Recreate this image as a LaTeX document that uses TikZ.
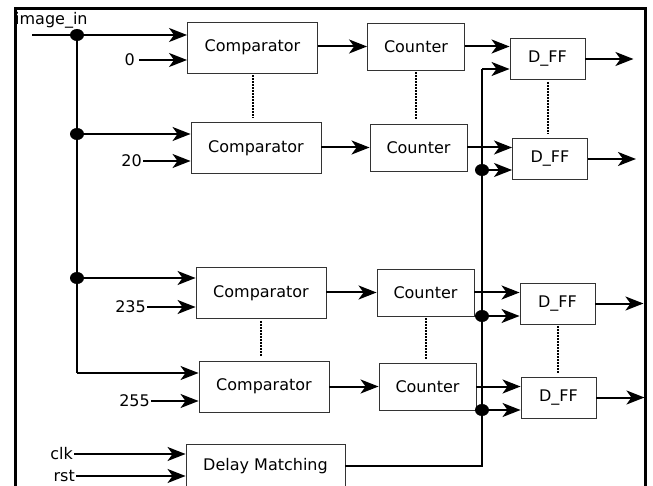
\documentclass[tikz,border=0pt]{standalone}
\usepackage{fontspec}
\setmainfont{DejaVu Sans}
\usetikzlibrary{arrows.meta, shapes.geometric}

\begin{document}
\begin{tikzpicture}[x=1pt, y=-1pt, ->, >={Stealth[length=18pt,width=14pt,inset=5pt]},
       font=\fontsize{16}{19}\selectfont]

\tikzstyle{blk} = [draw=black!80, line width=0.9pt, inner sep=0pt]
\tikzstyle{cmpbox} = [blk, minimum width=130pt, minimum height=51pt]
\tikzstyle{cntbox} = [blk, minimum width=97pt, minimum height=47pt]
\tikzstyle{ffbox} = [blk, minimum width=75pt, minimum height=41pt]
\tikzstyle{wire} = [-, line width=2pt]
\tikzstyle{arr} = [->, line width=2pt]
\tikzstyle{dot} = [ellipse, fill, minimum width=14pt, minimum height=12pt, inner sep=0pt]
\tikzstyle{vdots} = [-, line width=2pt, densely dotted, shorten <=2pt, shorten >=4pt]
\tikzstyle{lbl} = [inner ysep=1pt, anchor=east]

\useasboundingbox (0,0) rectangle (653,486);

% outer frame
\draw[-, line width=3pt] (15,500) -- (15,9) -- (645,9) -- (645,500);

% the four rows of blocks
\foreach \k / \cx / \cy / \nx / \ny / \fx / \fy in {1/252.5/47.5/416/46.5/547.5/59,
                                                    2/256/148/418.5/147.5/550/159,
                                                    3/261/293/425.5/292.5/557.5/303.5,
                                                    4/264/386.5/427.5/386.5/558.5/397.5}
{
    \node[cmpbox] (cmp-\k) at (\cx,\cy) {Comparator};
    \node[cntbox] (cnt-\k) at (\nx,\ny) {Counter};
    \node[ffbox]  (dff-\k) at (\fx,\fy) {D\_FF};
}

\node[blk, minimum width=159pt, minimum height=44pt] (dly) at (265.5,466) {Delay Matching};

% text inputs
\node[anchor=west, inner sep=0pt] (imgin) at (15,20) {image\_in};
\foreach \k / \vx / \vy / \v / \gap in {1/139/60/0/4pt, 2/143/161/20/1pt,
                                        3/147/307/235/1pt, 4/151/401/255/1pt}
    \node[lbl, inner xsep=\gap] (val-\k) at (\vx,\vy) {\v};
\node[lbl, inner xsep=1pt] (clk) at (74,454) {clk};
\node[lbl, inner xsep=1pt] (rst) at (76,476) {rst};

% image bus
\coordinate (src) at (32,35);
\foreach \k / \ty in {1/35, 2/134, 3/278, 4/373}
    \coordinate (tap-\k) at (77,\ty);
\draw[wire] (src) -- (tap-1) -- (tap-4);
\foreach \k in {1,...,3}
    \node[dot] at (tap-\k) {};

% clock bus
\foreach \k / \ty in {1/69, 2/170, 3/316, 4/410}
    \coordinate (ck-\k) at (482,\ty);
\draw[wire] (dly.east) -| (ck-1);
\foreach \k in {2,...,4}
    \node[dot] at (ck-\k) {};

% connections of each row
\foreach \k in {1,...,4}
{
    \draw[arr] (tap-\k) -- (tap-\k -| cmp-\k.west);
    \draw[arr] (val-\k.east) -- (val-\k.east -| cmp-\k.west);
    \draw[arr] (cnt-\k.west -| cmp-\k.east) -- (cnt-\k.west);
    \draw[arr] (cnt-\k.east) -- (cnt-\k.east -| dff-\k.west);
    \draw[arr] (ck-\k) -- (ck-\k -| dff-\k.west);
    \path (dff-\k.east) ++(48,0) coordinate (q-\k);
    \draw[arr] (dff-\k.east) -- (q-\k);
}

\draw[arr] (clk.east) -- (clk.east -| dly.west);
\draw[arr] (rst.east) -- (rst.east -| dly.west);

% dotted links between rows
\foreach \a / \b in {1/2, 3/4}
    \foreach \blk in {cmp, cnt, dff}
        \draw[vdots] (\blk-\a.south) -- (\blk-\a.south |- \blk-\b.north);

\end{tikzpicture}
\end{document}
